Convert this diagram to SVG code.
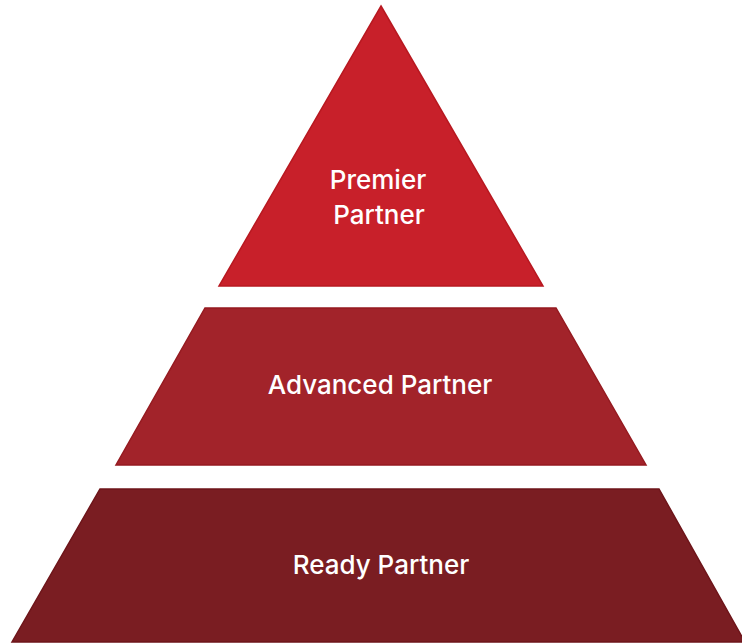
<svg xmlns="http://www.w3.org/2000/svg" width="742" height="643" viewBox="0 0 742 643">
<style>
.t{font-family:Inter,"Noto Sans","Liberation Sans",sans-serif;font-size:26px;font-weight:500;fill:#ffffff;text-anchor:middle}
.tier{stroke-width:1.5;stroke-linejoin:miter}
</style>
<rect width="742" height="643" fill="#ffffff"/>
<g id="premier">
<polygon class="tier" points="381,6 543,286 219,286" fill="#C8202A" stroke="#B81820"/>
<text class="t" x="378" y="189">Premier</text>
<text class="t" x="379" y="224">Partner</text>
</g>
<g id="advanced">
<polygon class="tier" points="205,308 556,308 646,465 116,465" fill="#A2232A" stroke="#951A20"/>
<text class="t" x="380" y="394">Advanced Partner</text>
</g>
<g id="ready">
<polygon class="tier" points="100,489 659,489 745,642 12,642" fill="#7A1D22" stroke="#6E151A"/>
<text class="t" x="381" y="574">Ready Partner</text>
</g>
<g id="connectors"></g>
</svg>
